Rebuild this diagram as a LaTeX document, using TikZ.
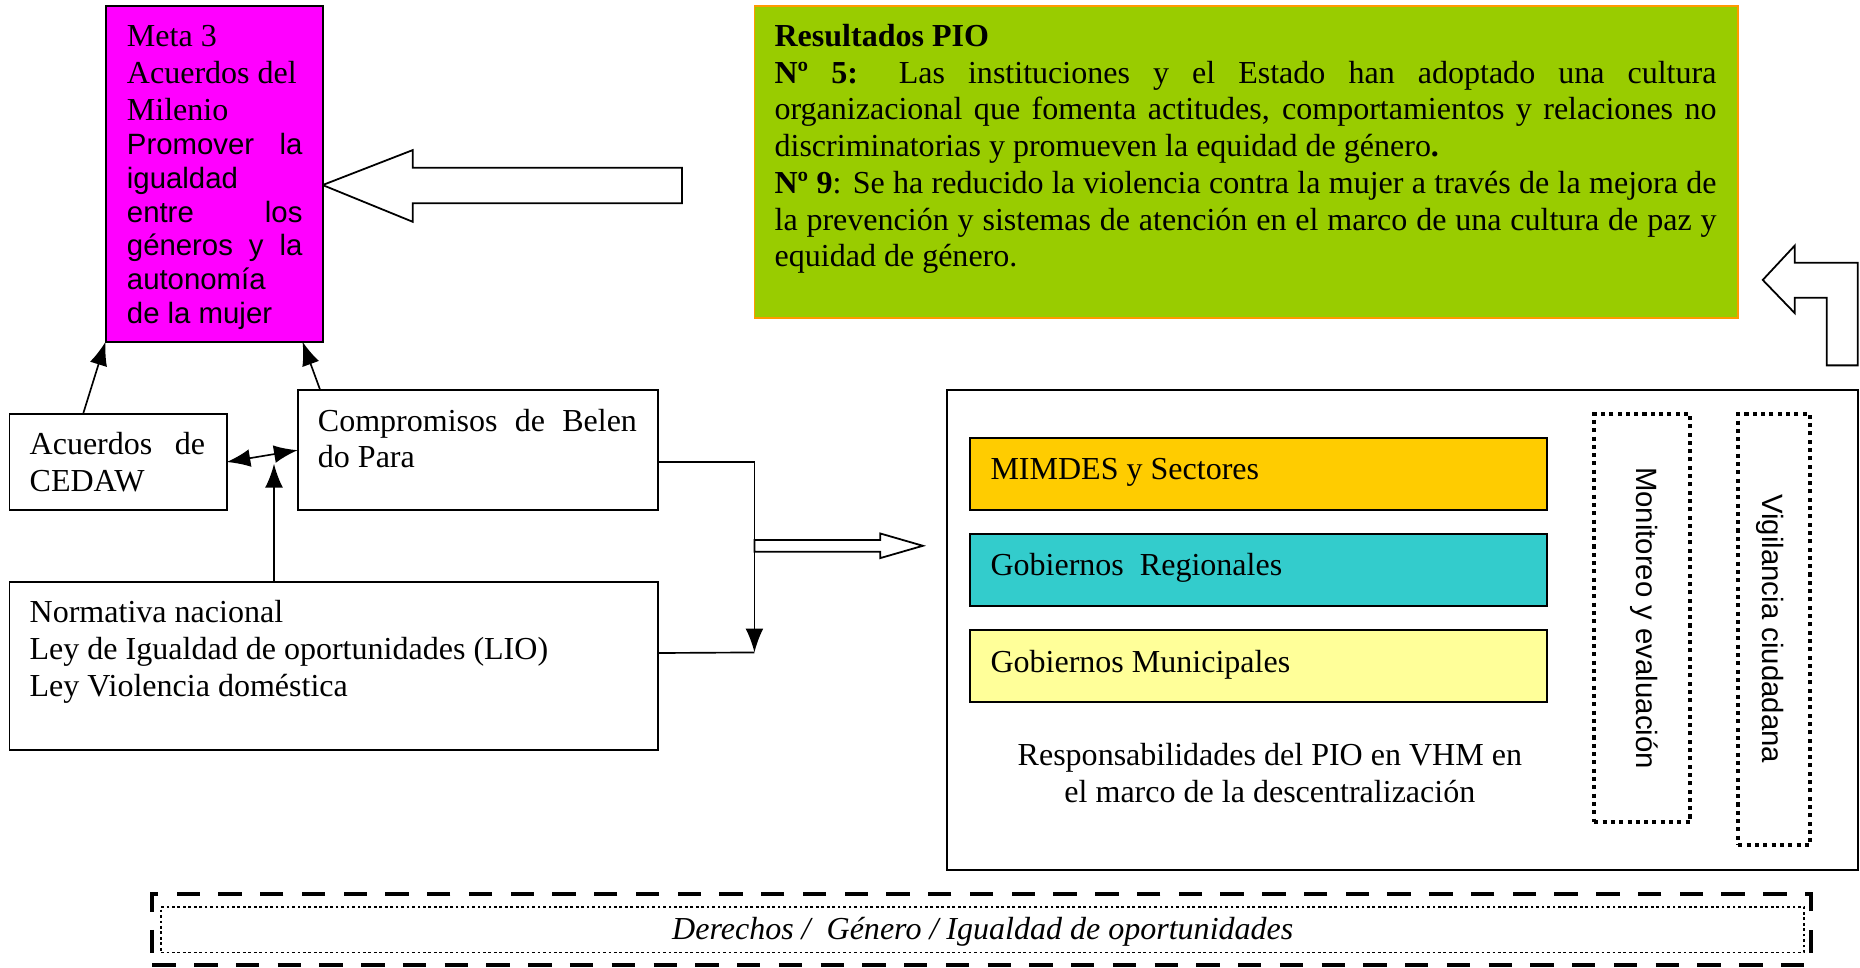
\documentclass[tikz,border=0pt]{standalone}
\usepackage{fontspec}
\setmainfont{Liberation Serif}
\newfontfamily\arialf{Liberation Sans}
\usetikzlibrary{arrows.meta,calc}
\definecolor{magC}{HTML}{FF00FF}
\definecolor{greenC}{HTML}{99CC00}
\definecolor{orangeC}{HTML}{FF9900}
\definecolor{goldC}{HTML}{FFCC00}
\definecolor{tealC}{HTML}{33CCCC}
\definecolor{lyelC}{HTML}{FFFF99}
\newcommand\tms{\fontsize{27}{31}\selectfont}
\newcommand\ari{\arialf\fontsize{24.75}{29}\selectfont}
\begin{document}
\begin{tikzpicture}[x=1pt,y=-1pt,
 box/.style={draw, line width=1.6pt, inner sep=0pt, outer sep=0pt, anchor=north west},
 tx/.style={anchor=base west, inner sep=0pt, outer sep=0pt, font=\tms},
 ta/.style={anchor=base west, inner sep=0pt, outer sep=0pt, font=\ari},
 arr/.style={line width=1.4pt, -{Latex[length=20pt,width=15pt]}},
 darr/.style={line width=1.4pt, {Latex[length=20pt,width=15pt]}-{Latex[length=20pt,width=15pt]}},
 hollow/.style={draw, line width=1.5pt, fill=white, line join=miter},
 dotbox/.style={draw, line width=3.4pt, dash pattern=on 3.4pt off 3.6pt, inner sep=0pt, outer sep=0pt, anchor=north west},
]
\useasboundingbox (0,0) rectangle (1568,816);

% big hollow arrow pointing at Meta box
\draw[hollow] (272,156) -- (348,126.5) -- (348,141.4) -- (575,141.4) -- (575,171.4) -- (348,171.4) -- (348,187) -- cycle;

% Meta box
\node[box, fill=magC, minimum width=183pt, minimum height=283pt] (meta) at (89,5) {};
\node[tx] (m1) at (107,39.5) {Meta 3};
\node[tx] (m2) at (107,70.5) {Acuerdos del};
\node[tx] (m3) at (107,101.5) {Milenio};
\node[ta] (m4) at (107,130) {\makebox[148pt][s]{Promover la}};
\node[ta] (m5) at (107,158.5) {igualdad};
\node[ta] (m6) at (107,187.5) {\makebox[148pt][s]{entre los}};
\node[ta] (m7) at (107,215.5) {\makebox[148pt][s]{géneros y la}};
\node[ta] (m8) at (107,244) {autonomía};
\node[ta] (m9) at (107,272.5) {de la mujer};

% Green box
\node[draw=orangeC, line width=1.2pt, fill=greenC, inner sep=0pt, outer sep=0pt, anchor=north west, minimum width=829pt, minimum height=263pt] (green) at (636,5) {};
\node[tx] (g1) at (653,39) {\textbf{Resultados PIO}};
\node[tx] (g2) at (653,70) {\makebox[794pt][s]{\textbf{Nº 5:} Las instituciones y el Estado han adoptado una cultura}};
\node[tx] (g3) at (653,101) {\makebox[794pt][s]{organizacional que fomenta actitudes, comportamientos y relaciones no}};
\node[tx] (g4) at (653,132) {discriminatorias y promueven la equidad de género\textbf{.}};
\node[tx] (g5) at (653,163) {\makebox[794pt][s]{\textbf{Nº 9}: Se ha reducido la violencia contra la mujer a través de la mejora de}};
\node[tx] (g6) at (653,194) {\makebox[794pt][s]{la prevención y sistemas de atención en el marco de una cultura de paz y}};
\node[tx] (g7) at (653,225) {equidad de género.};

% bent arrow
\draw[hollow] (1486,236) -- (1513,207) -- (1513,221.5) -- (1566,221.5) -- (1566,308) -- (1540,308) -- (1540,251) -- (1513,251) -- (1513,264) -- cycle;

% left boxes
\node[box, minimum width=183pt, minimum height=81pt] (acu) at (8,349) {};
\node[tx] (a1) at (25,383) {\makebox[148pt][s]{Acuerdos de}};
\node[tx] (a2) at (25,414) {CEDAW};
\node[box, minimum width=304pt, minimum height=101pt] (comp) at (251,329) {};
\node[tx] (c1) at (268,363.5) {\makebox[269pt][s]{Compromisos de Belen}};
\node[tx] (c2) at (268,394.5) {do Para};
\node[box, minimum width=547pt, minimum height=141pt] (norm) at (8,491) {};
\node[tx] (n1) at (25,525) {Normativa nacional};
\node[tx] (n2) at (25,556) {Ley de Igualdad de oportunidades (LIO)};
\node[tx] (n3) at (25,587.5) {Ley Violencia doméstica};

% hollow arrow to right box
\draw[hollow] (636,455.3) -- (742,455.3) -- (742,449.7) -- (778,460.1) -- (742,470.5) -- (742,465.2) -- (636,465.2) -- cycle;

% connectors
\draw[arr] ($(acu.north west)!0.339!(acu.north east)$) -- (meta.south west);
\draw[arr] ($(comp.north west)+(19,0)$) -- ($(meta.south east)+(-17,0)$);
\draw[darr] (acu.east) -- (comp.west);
\coordinate (vt) at (231,391);
\draw[arr] ($(norm.north west)+(223,0)$) -- (vt);
\coordinate (jn) at (636,550);
\draw[arr] ($(comp.east)+(0,10)$) -| (jn);
\draw[line width=1.4pt] ($(norm.east)+(0,-11)$) -- (jn);

% right big box
\node[box, minimum width=768pt, minimum height=404.5pt] (outer) at (798,329) {};
\node[box, fill=goldC, minimum width=486pt, minimum height=60.5pt] (mimdes) at (818,369.5) {};
\node[tx] (t1) at (835,404.5) {MIMDES y Sectores};
\node[box, fill=tealC, minimum width=486pt, minimum height=60.5pt] (greg) at (818,450.5) {};
\node[tx] (t2) at (835,485.5) {Gobiernos\ \ Regionales};
\node[box, fill=lyelC, minimum width=486pt, minimum height=60.5pt] (gmun) at (818,531) {};
\node[tx] (t3) at (835,566.5) {Gobiernos Municipales};
\node[tx, anchor=base] (r1) at (1070.5,645) {Responsabilidades del PIO en VHM en};
\node[tx, anchor=base] (r2) at (1070.5,676.5) {el marco de la descentralización};
\node[dotbox, minimum width=81pt, minimum height=344pt] (mon) at (1344,349) {};
\node[dotbox, minimum width=60.5pt, minimum height=363.5pt] (vig) at (1465.5,349) {};
\node[font=\ari, rotate=-90, inner sep=0pt] (tmon) at (1386,521) {Monitoreo y evaluación};
\node[font=\ari, rotate=-90, inner sep=0pt] (tvig) at (1492,530) {Vigilancia ciudadana};

% bottom band
\node[draw, line width=3.4pt, dash pattern=on 19.7pt off 15.5pt, inner sep=0pt, outer sep=0pt, anchor=north west, minimum width=1398pt, minimum height=60pt] (band) at (128.5,753.5) {};
\node[draw, line width=1.3pt, dash pattern=on 2.3pt off 2.3pt, inner sep=0pt, outer sep=0pt, anchor=north west, minimum width=1385pt, minimum height=38.3pt] (bandin) at (135.8,764.5) {};
\node[tx, anchor=base, font=\tms\itshape] (bt) at (828.5,792) {Derechos /\ \ Género / Igualdad de oportunidades};
\end{tikzpicture}
\end{document}
